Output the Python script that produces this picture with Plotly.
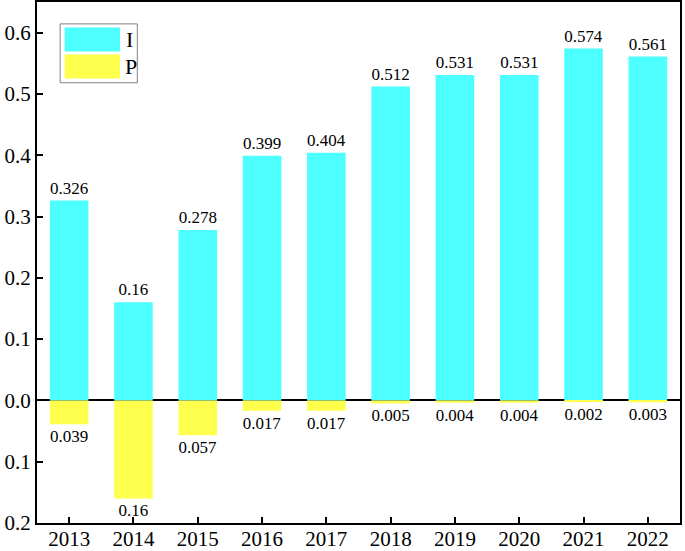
import plotly.graph_objects as go

years = ["2013", "2014", "2015", "2016", "2017", "2018", "2019", "2020", "2021", "2022"]
I_vals = [0.326, 0.16, 0.278, 0.399, 0.404, 0.512, 0.531, 0.531, 0.574, 0.561]
P_vals = [0.039, 0.16, 0.057, 0.017, 0.017, 0.005, 0.004, 0.004, 0.002, 0.003]
I_labels = ["0.326", "0.16", "0.278", "0.399", "0.404", "0.512", "0.531", "0.531", "0.574", "0.561"]
P_labels = ["0.039", "0.16", "0.057", "0.017", "0.017", "0.005", "0.004", "0.004", "0.002", "0.003"]
ytick_vals = [-0.2, -0.1, 0.0, 0.1, 0.2, 0.3, 0.4, 0.5, 0.6]
ytick_text = ["0.2", "0.1", "0.0", "0.1", "0.2", "0.3", "0.4", "0.5", "0.6"]

CYAN = "#4DFFFF"
YELLOW = "#FFFF4D"
FONT = "Liberation Serif"

fig = go.Figure()
fig.add_trace(go.Bar(x=years, y=I_vals, name="I", marker=dict(color=CYAN, line=dict(width=0)),
                     text=I_labels, textposition="outside", cliponaxis=False,
                     textfont=dict(family=FONT, size=17, color="black")))
fig.add_trace(go.Bar(x=years, y=[-v for v in P_vals], name="P", marker=dict(color=YELLOW, line=dict(width=0)),
                     text=P_labels, textposition="outside", cliponaxis=False,
                     textfont=dict(family=FONT, size=17, color="black")))

fig.update_layout(
    width=685, height=551,
    margin=dict(l=37, r=5, t=2, b=28, autoexpand=False),
    barmode="relative", bargap=0.4,
    plot_bgcolor="white", paper_bgcolor="white",
    showlegend=False,
    font=dict(family=FONT, size=21, color="black"),
)
fig.update_xaxes(showline=True, linecolor="black", linewidth=2, mirror=True,
                 ticks="inside", ticklen=6, tickwidth=2, tickcolor="black",
                 range=[-0.5, 9.5], showgrid=False, automargin=False,
                 ticklabelstandoff=-4,
                 tickfont=dict(family=FONT, size=21, color="black"))
fig.update_yaxes(showline=True, linecolor="black", linewidth=2, mirror=True,
                 ticks="inside", ticklen=6, tickwidth=2, tickcolor="black",
                 range=[-0.2, 0.65], tickvals=ytick_vals, ticktext=ytick_text,
                 showgrid=False, zeroline=True, zerolinecolor="black", zerolinewidth=2,
                 automargin=False,
                 tickfont=dict(family=FONT, size=21, color="black"))

# manual legend
fig.add_shape(type="rect", xref="paper", yref="paper", x0=0.036, x1=0.156, y0=0.845, y1=0.958,
              line=dict(color="#808080", width=1), fillcolor="white")
fig.add_shape(type="rect", xref="paper", yref="paper", x0=0.043, x1=0.129, y0=0.905, y1=0.951,
              line=dict(width=0), fillcolor=CYAN)
fig.add_shape(type="rect", xref="paper", yref="paper", x0=0.043, x1=0.129, y0=0.853, y1=0.899,
              line=dict(width=0), fillcolor=YELLOW)
fig.add_annotation(xref="paper", yref="paper", x=0.135, y=0.928, text="I", showarrow=False,
                   xanchor="left", yanchor="middle", font=dict(family=FONT, size=22))
fig.add_annotation(xref="paper", yref="paper", x=0.133, y=0.876, text="P", showarrow=False,
                   xanchor="left", yanchor="middle", font=dict(family=FONT, size=22))

fig.write_html("out.html", config={"displayModeBar": False},
               post_script="document.body.style.margin='0';document.body.style.padding='0';")
